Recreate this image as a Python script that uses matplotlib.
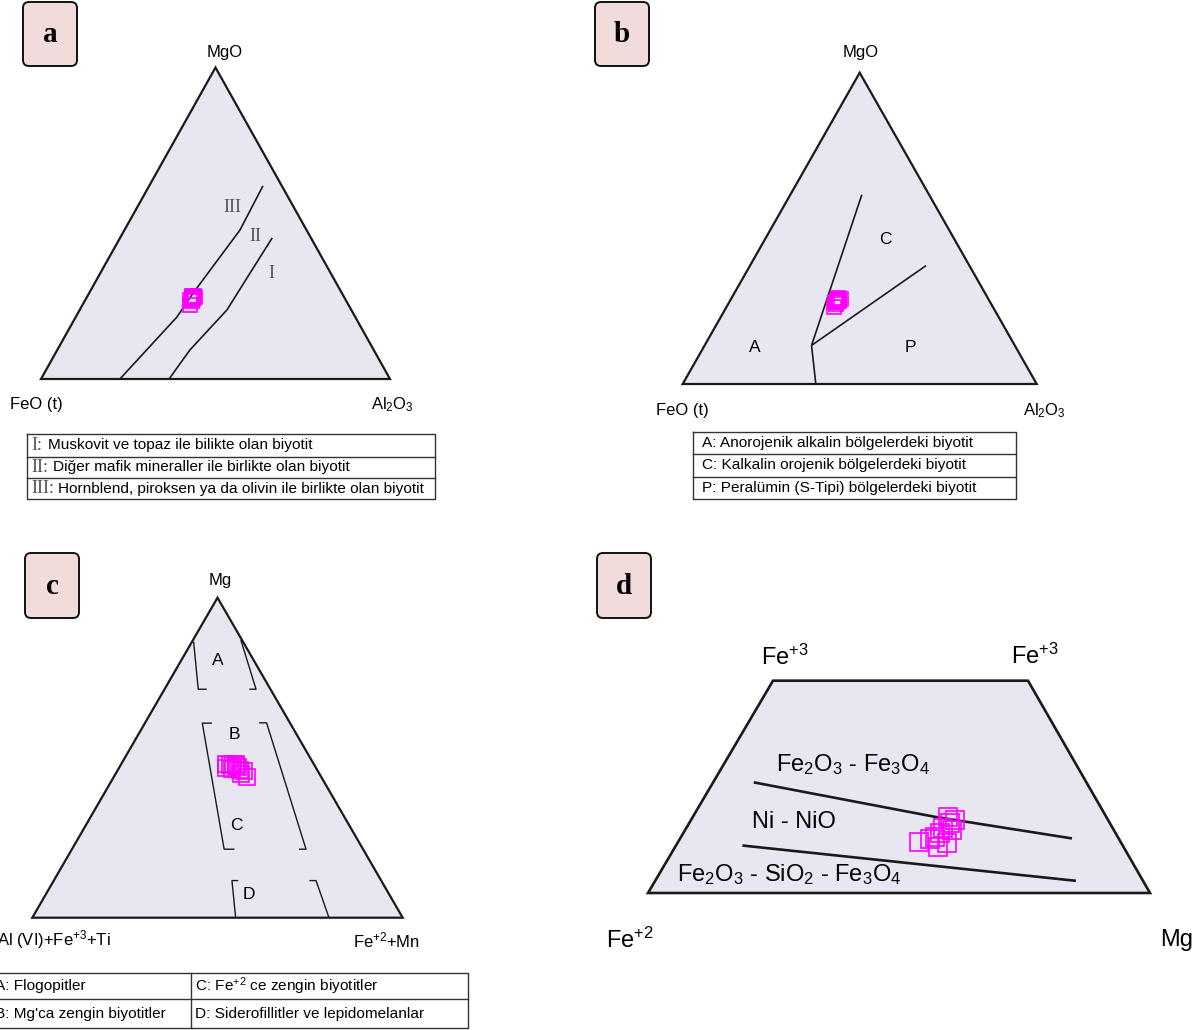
import matplotlib
matplotlib.use('Agg')
import matplotlib.pyplot as plt
from matplotlib.patches import Polygon, FancyBboxPatch
import numpy as np

plt.rcParams['font.family'] = ['Liberation Sans', 'DejaVu Sans']
plt.rcParams['mathtext.fontset'] = 'custom'
plt.rcParams['mathtext.rm'] = 'Liberation Sans'
plt.rcParams['mathtext.it'] = 'Liberation Sans:italic'
plt.rcParams['mathtext.bf'] = 'Liberation Sans:bold'
plt.rcParams['mathtext.default'] = 'regular'

# ---- compositions (percent) ----
# a) MgO - FeO(t) - Al2O3 as (MgO, Al2O3)
a_line_III = [(0, 22.6), (19.9, 29.0), (27.6, 29.8), (47.8, 33.1), (62.0, 32.6)]
a_line_I = [(0, 36.7), (9.3, 38.0), (22.2, 42.2), (34.0, 42.9), (45.3, 43.6)]
a_mgo = [26.0, 26.5, 25.5, 26.8, 25.2, 26.2, 23.8, 26.4, 25.8]
a_al2o3 = [30.3, 30.5, 30.0, 30.0, 30.6, 30.9, 30.8, 30.2, 30.6]

# b) same axes
b_line_AC = [(60.8, 20.2), (12.4, 30.2)]
b_line_AP = [(12.4, 30.2), (0, 37.6)]
b_line_CP = [(12.4, 30.2), (38.0, 49.7)]
b_mgo = [27.0, 27.5, 26.6, 26.2, 27.2, 25.8, 24.8, 26.9, 26.4]
b_al2o3 = [30.4, 30.2, 30.8, 30.0, 31.0, 30.5, 30.4, 30.6, 30.3]

# c) Mg - Al(VI)+Fe3+Ti - Fe2+Mn as (Mg, Fe2+Mn)
c_brackets = [
    [(86.3, 0.4), (71.4, 9.1), (71.4, 11.4)],
    [(86.8, 12.9), (71.4, 24.7), (71.4, 22.9)],
    [(60.8, 18.1), (60.8, 15.5), (21.4, 41.1), (21.4, 43.9)],
    [(60.9, 30.8), (60.9, 32.8), (21.4, 63.2), (21.4, 61.3)],
    [(11.6, 49.8), (11.6, 48.1), (0, 54.9)],
    [(11.6, 69.0), (11.6, 70.8), (0, 80.1)],
]
c_regions = ['A', 'B', 'C', 'D']
c_region_pos = [(80.5, 9.7), (57.1, 25.9), (28.8, 40.8), (7.1, 54.8)]
c_mg = [48.0, 47.7, 48.0, 47.4, 47.1, 46.2, 45.8, 44.0, 46.8, 47.9, 46.5, 45.0]
c_femn = [28.3, 29.5, 30.2, 31.3, 32.0, 33.0, 34.2, 36.0, 29.0, 31.0, 30.6, 33.8]

# d) Fe3+ - Fe2+ - Mg as (Fe3+, Mg)
d_buffer_upper = [(52.0, 5.4), (35.9, 37.5), (25.8, 66.1)]
d_buffer_lower = [(22.3, 11.8), (5.8, 81.0)]
d_fe3 = [24.2, 25.3, 26.5, 28.1, 30.5, 32.8, 34.4, 35.9, 21.8, 23.4, 29.7]
d_mg = [41.3, 42.6, 42.7, 42.7, 41.9, 41.7, 41.5, 39.6, 45.9, 46.5, 43.7]

legend_a = ['Muskovit ve topaz ile bilikte olan biyotit',
            'Diğer mafik mineraller ile birlikte olan biyotit',
            'Hornblend, piroksen ya da olivin ile birlikte olan biyotit']
legend_a_num = ['I', 'II', 'III']
legend_b = ['A: Anorojenik alkalin bölgelerdeki biyotit',
            'C: Kalkalin orojenik bölgelerdeki biyotit',
            'P: Peralümin (S-Tipi) bölgelerdeki biyotit']
legend_c = [['A: Flogopitler', 'C: Fe$^{+2}$ ce zengin biyotitler'],
            ["B: Mg'ca zengin biyotitler", 'D: Siderofillitler ve lepidomelanlar']]

W, H = 1193, 1030
FILL = '#e8e6f0'
PINK = '#f2dcdb'
MAG = '#ff00ff'
EDGE = '#1a1a1a'
LEG_FS = 11.1


def tern(top, right):
    top = np.asarray(top, dtype=float) / 100.0
    right = np.asarray(right, dtype=float) / 100.0
    return right + top / 2.0, top


D_TL, D_TR = 0.249, 0.243   # inset of the upper corners of the trapezoid


def trap(fe3, mg):
    fe3 = np.asarray(fe3, dtype=float) / 100.0
    mg = np.asarray(mg, dtype=float) / 100.0
    f = mg / (1 - fe3)
    xl = D_TL * fe3
    xr = 1 - D_TR * fe3
    return xl + f * (xr - xl), fe3


fig = plt.figure(figsize=(W / 100, H / 100), dpi=100)
# pixel overlay for labels, tags and legend tables (kept above the panels)
ov = fig.add_axes([0, 0, 1, 1])
ov.set_xlim(0, W)
ov.set_ylim(H, 0)
ov.axis('off')
ov.set_zorder(10)


def panel_axes(left, top, right, bottom):
    ax = fig.add_axes([left / W, 1 - bottom / H, (right - left) / W, (bottom - top) / H])
    ax.set_xlim(0, 1)
    ax.set_ylim(0, 1)
    ax.axis('off')
    return ax


def triangle(ax):
    ax.add_patch(Polygon([[0, 0], [1, 0], [0.5, 1]], closed=True, fc=FILL, ec=EDGE,
                         lw=1.6, joinstyle='miter', clip_on=False))


def tern_line(ax, pts, lw=1.2):
    t = [p[0] for p in pts]
    r = [p[1] for p in pts]
    x, y = tern(t, r)
    ax.plot(x, y, color=EDGE, lw=lw, clip_on=False, solid_capstyle='butt')


def squares(ax, x, y, ms):
    ax.plot(x, y, 's', ms=ms, mfc='none', mec=MAG, mew=1.2, clip_on=False)


def tag(x0, y0, x1, y1, letter):
    ov.add_patch(FancyBboxPatch((x0, y0), x1 - x0, y1 - y0,
                                boxstyle='round,pad=0,rounding_size=6',
                                fc=PINK, ec='#111', lw=1.4))
    ov.text((x0 + x1) / 2, (y0 + y1) / 2 + 1, letter, ha='center', va='center',
            family='Liberation Serif', weight='bold', fontsize=21)


def grid_box(x0, x1, ys, col=None):
    ov.plot([x0, x1, x1, x0, x0], [ys[0], ys[0], ys[-1], ys[-1], ys[0]], color='#333', lw=1.0)
    for y in ys[1:-1]:
        ov.plot([x0, x1], [y, y], color='#333', lw=1.0)
    if col is not None:
        ov.plot([col, col], [ys[0], ys[-1]], color='#333', lw=1.0)


# ---------------- a ----------------
ax = panel_axes(41, 67.5, 390, 379)
triangle(ax)
tern_line(ax, a_line_III)
tern_line(ax, a_line_I)
for name, pos in zip(['III', 'II', 'I'], [(54.9, 27.3), (45.6, 38.5), (34.0, 48.9)]):
    ax.text(*tern(*pos), name, ha='center', va='center', family='Liberation Serif',
            color='#555555', fontsize=13)
squares(ax, *tern(a_mgo, a_al2o3), ms=10.5)

ov.text(225, 52, 'MgO', ha='center', va='center', fontsize=12)
ov.text(36, 404, 'FeO (t)', ha='center', va='center', fontsize=12)
ov.text(392, 405, 'Al$_2$O$_3$', ha='center', va='center', fontsize=12)
tag(23, 2, 77, 66, 'a')

ys_a = [434.3, 456.7, 478.3, 499.3]
grid_box(26.7, 435, ys_a)
for i, (num, txt) in enumerate(zip(legend_a_num, legend_a)):
    yc = (ys_a[i] + ys_a[i + 1]) / 2
    ov.text(31, yc, num + ':', ha='left', va='center', family='Liberation Serif',
            color='#555555', fontsize=13)
    ov.text([48, 53, 58][i], yc, txt, ha='left', va='center', fontsize=LEG_FS)

# ---------------- b ----------------
ax = panel_axes(682.7, 72.7, 1036.7, 384)
triangle(ax)
tern_line(ax, b_line_AC)
tern_line(ax, b_line_AP)
tern_line(ax, b_line_CP)
for name, pos in zip(['C', 'A', 'P'], [(46.3, 34.2), (11.6, 14.6), (11.6, 58.4)]):
    ax.text(*tern(*pos), name, ha='center', va='center', fontsize=12.5)
squares(ax, *tern(b_mgo, b_al2o3), ms=10.5)

ov.text(861, 52, 'MgO', ha='center', va='center', fontsize=12)
ov.text(682, 411, 'FeO (t)', ha='center', va='center', fontsize=12)
ov.text(1044, 411, 'Al$_2$O$_3$', ha='center', va='center', fontsize=12)
tag(595, 2, 649, 66, 'b')

ys_b = [432.3, 454.3, 476.7, 499.3]
grid_box(692.7, 1015.7, ys_b)
for i, txt in enumerate(legend_b):
    ov.text(702, (ys_b[i] + ys_b[i + 1]) / 2, txt, ha='left', va='center', fontsize=LEG_FS)

# ---------------- c ----------------
ax = panel_axes(32.3, 597.7, 402.7, 917.7)
triangle(ax)
for br in c_brackets:
    tern_line(ax, br, lw=1.0)
for name, pos in zip(c_regions, c_region_pos):
    ax.text(*tern(*pos), name, ha='center', va='center', fontsize=12.5)
squares(ax, *tern(c_mg, c_femn), ms=11.5)

ov.text(220, 580, 'Mg', ha='center', va='center', fontsize=12)
ov.text(-3, 940, 'Al (VI)+Fe$^{+3}$+Ti', ha='left', va='center', fontsize=12)
ov.text(386, 940, 'Fe$^{+2}$+Mn', ha='center', va='center', fontsize=12)
tag(25, 553, 79, 618, 'c')

ys_c = [972.7, 999.3, 1028.3]
grid_box(-20, 468, ys_c, col=190.7)
for i, row in enumerate(legend_c):
    yc = (ys_c[i] + ys_c[i + 1]) / 2
    ov.text(-5, yc, row[0], ha='left', va='center', fontsize=LEG_FS)
    ov.text(195, yc, row[1], ha='left', va='center', fontsize=LEG_FS)

# ---------------- d ----------------
ax = panel_axes(648, 680.7, 1150, 893)
ax.add_patch(Polygon([[0, 0], [1, 0], [1 - D_TR, 1], [D_TL, 1]], closed=True, fc=FILL,
                     ec=EDGE, lw=1.9, joinstyle='miter', clip_on=False))
for line in [d_buffer_upper, d_buffer_lower]:
    x, y = trap([p[0] for p in line], [p[1] for p in line])
    ax.plot(x, y, color=EDGE, lw=1.9, clip_on=False)
squares(ax, *trap(d_fe3, d_mg), ms=13.5)

ov.text(853, 765, 'Fe$_2$O$_3$ - Fe$_3$O$_4$', ha='center', va='center', fontsize=17)
ov.text(794, 822, 'Ni - NiO', ha='center', va='center', fontsize=17)
ov.text(789, 875, 'Fe$_2$O$_3$ - SiO$_2$ - Fe$_3$O$_4$', ha='center', va='center', fontsize=17)
ov.text(785, 657, 'Fe$^{+3}$', ha='center', va='center', fontsize=17)
ov.text(1035, 656, 'Fe$^{+3}$', ha='center', va='center', fontsize=17)
ov.text(630, 940, 'Fe$^{+2}$', ha='center', va='center', fontsize=17)
ov.text(1177, 940, 'Mg', ha='center', va='center', fontsize=17)
tag(597, 553, 651, 618, 'd')

fig.savefig('out.png', dpi=100)
